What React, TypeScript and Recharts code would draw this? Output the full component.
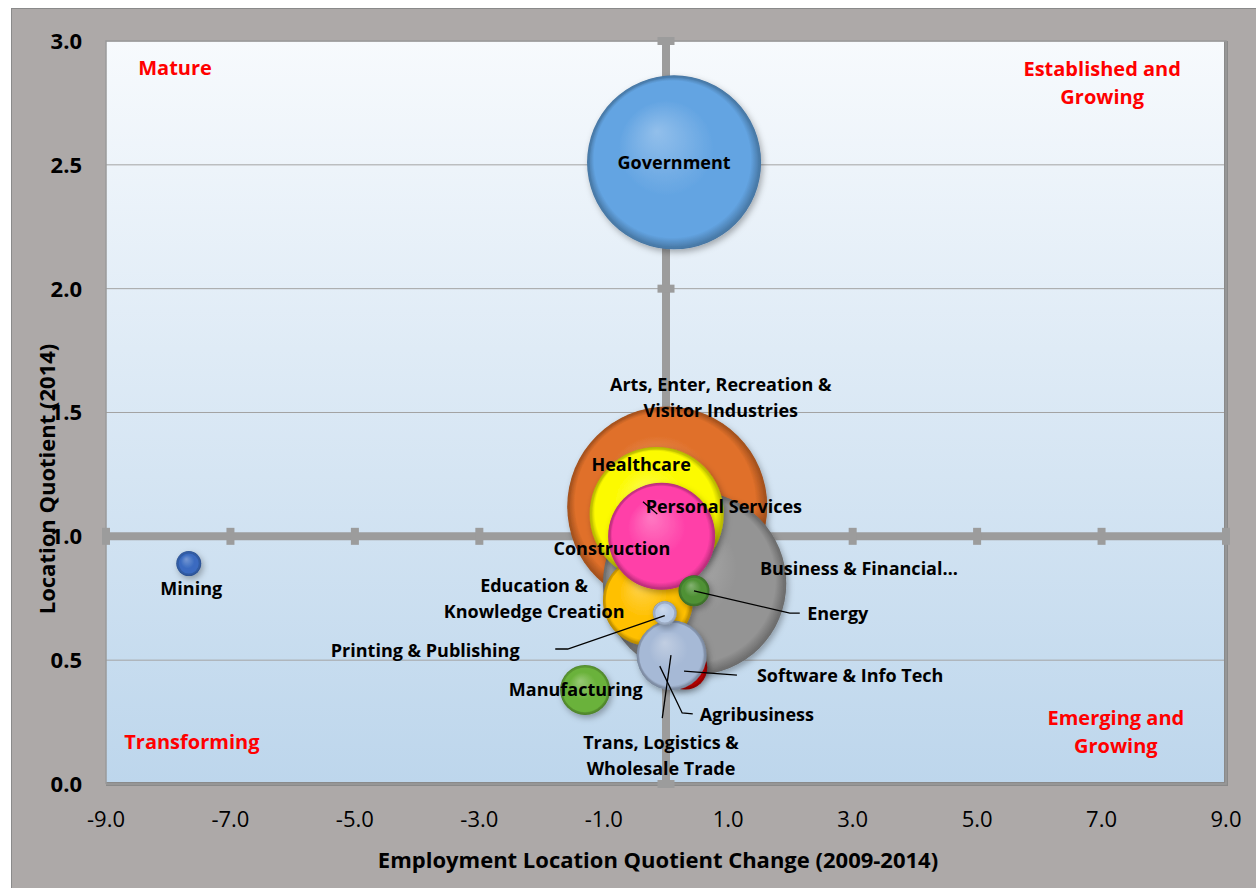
import React from 'react';
import { ScatterChart, Scatter, XAxis, YAxis, ZAxis, CartesianGrid } from 'recharts';

// bubbles, listed back-to-front (draw order)
const industries = [
    'Arts, Enter, Recreation & Visitor Industries',
    'Business & Financial Services',
    'Healthcare',
    'Education & Knowledge Creation',
    'Construction',
    'Personal Services',
    'Energy',
    'Software & Info Tech',
    'Agribusiness',
    'Trans, Logistics & Wholesale Trade',
    'Printing & Publishing',
    'Manufacturing',
    'Mining',
    'Government',
];
const lqChange = [0.02, 0.46, -0.15, -0.29, -0.15, -0.07, 0.45, 0.31, -0.10, 0.09, -0.02, -1.30, -7.67, 0.13];
const lq2014 = [1.12, 0.81, 1.09, 0.74, 0.98, 1.0, 0.78, 0.47, 0.48, 0.52, 0.69, 0.38, 0.89, 2.51];
const employment = [10000, 8400, 4500, 2025, 900, 2860, 240, 484, 225, 1225, 144, 625, 156, 7570];

const bubbleColors = [
    '#E0702A', '#949494', '#FCFA00', '#FFC000', '#A6A6A6', '#FF3FA8', '#4F9135',
    '#E00000', '#9FB4D3', '#A6B9D6', '#B8CBE6', '#6AB23A', '#3A6BC0', '#63A4E2',
];

const xTicks = [-9, -7, -5, -3, -1, 1, 3, 5, 7, 9];
const yTicks = [0, 0.5, 1, 1.5, 2, 2.5, 3];

// data labels (centre of the text block, in chart units)
const labelSpots = [
    { x: 0.13, y: 2.51, lines: ['Government'] },
    { x: 0.88, y: 1.56, lines: ['Arts, Enter, Recreation &', 'Visitor Industries'] },
    { x: -0.4, y: 1.29, lines: ['Healthcare'] },
    { x: 0.93, y: 1.12, lines: ['Personal Services'] },
    { x: -0.87, y: 0.95, lines: ['Construction'] },
    { x: 3.1, y: 0.87, lines: ['Business & Financial\u2026'] },
    { x: -2.12, y: 0.75, lines: ['Education &', 'Knowledge Creation'] },
    { x: 2.76, y: 0.69, lines: ['Energy'] },
    { x: -3.87, y: 0.54, lines: ['Printing & Publishing'] },
    { x: -1.45, y: 0.38, lines: ['Manufacturing'] },
    { x: 2.96, y: 0.44, lines: ['Software & Info Tech'] },
    { x: 1.46, y: 0.28, lines: ['Agribusiness'] },
    { x: -0.08, y: 0.115, lines: ['Trans, Logistics &', 'Wholesale Trade'] },
    { x: -7.63, y: 0.79, lines: ['Mining'] },
];

const quadrantSpots = [
    { x: -7.89, y: 2.89, lines: ['Mature'] },
    { x: 7.01, y: 2.83, lines: ['Established and', 'Growing'] },
    { x: 7.23, y: 0.21, lines: ['Emerging and', 'Growing'] },
    { x: -7.62, y: 0.17, lines: ['Transforming'] },
];

const leaders = [
    [{ x: -0.37, y: 1.14 }, { x: -0.14, y: 1.09 }],
    [{ x: 0.45, y: 0.78 }, { x: 1.99, y: 0.69 }, { x: 2.15, y: 0.69 }],
    [{ x: -0.02, y: 0.68 }, { x: -1.58, y: 0.545 }, { x: -1.78, y: 0.545 }],
    [{ x: 0.29, y: 0.456 }, { x: 1.14, y: 0.44 }],
    [{ x: -0.1, y: 0.476 }, { x: 0.26, y: 0.287 }, { x: 0.43, y: 0.283 }],
    [{ x: 0.08, y: 0.52 }, { x: -0.06, y: 0.266 }],
];

const FONT = '"Open Sans", "Noto Sans", sans-serif';
const AXIS_GRAY = '#9C9C9C';

const bubbles = industries.map((name, i) => ({ name, x: lqChange[i], y: lq2014[i], z: employment[i], idx: i }));
const hAxis = [{ x: -9, y: 1 }, { x: 9, y: 1 }];
const vAxis = [{ x: 0, y: 0 }, { x: 0, y: 3 }];
const hAxisTicks = xTicks.map((x) => ({ x, y: 1 }));
const vAxisTicks = [0, 1, 2, 3].map((y) => ({ x: 0, y }));
const frame = [{ x: -9, y: 0 }, { x: 9, y: 0 }, { x: 9, y: 3 }, { x: -9, y: 3 }, { x: -9, y: 0 }];
const frameShadow = [{ x: 9, y: 3 }, { x: 9, y: 0 }, { x: -9, y: 0 }];

function shade(hex: string, amt: number) {
    const n = parseInt(hex.slice(1), 16);
    const ch = [(n >> 16) & 255, (n >> 8) & 255, n & 255].map((c) =>
        Math.round(amt >= 0 ? c + (255 - c) * amt : c * (1 + amt))
    );
    return '#' + ch.map((c) => c.toString(16).padStart(2, '0')).join('');
}

const Nothing = () => <g />;

function Bubble(props: any) {
    const { cx, cy, size, payload } = props;
    const r = Math.sqrt(Math.max(size, 0) / Math.PI);
    return (
        <g filter="url(#bubShadow)">
            <circle cx={cx} cy={cy} r={r} fill={`url(#bub${payload.idx})`} />
            <circle cx={cx} cy={cy} r={Math.max(r - 1.5, 0)} fill="none" stroke={shade(bubbleColors[payload.idx], -0.25)} strokeWidth={2} strokeOpacity={0.6} />
        </g>
    );
}

function makeText(color: string, size: number, lh: number) {
    return (props: any) => {
        const { cx, cy, payload } = props;
        const n = payload.lines.length;
        return (
            <text textAnchor="middle" fontFamily={FONT} fontWeight={700} fontSize={size} fill={color}>
                {payload.lines.map((l: string, i: number) => (
                    <tspan key={i} x={cx} y={cy + (i - (n - 1) / 2) * lh} dy="0.36em">{l}</tspan>
                ))}
            </text>
        );
    };
}

const HTick = (props: any) => (
    <rect x={props.cx - 4} y={props.cy - 8.5} width={8} height={17} fill={AXIS_GRAY} />
);
const VTick = (props: any) => (
    <rect x={props.cx - 8.5} y={props.cy - 4} width={17} height={8} fill={AXIS_GRAY} />
);

const XTick = ({ x, y, payload }: any) => (
    <text x={x} y={y + 43} textAnchor="middle" fontFamily={FONT} fontSize={22} fill="#000">
        {Number(payload.value).toFixed(1)}
    </text>
);
const YTick = ({ x, y, payload }: any) => (
    <text x={x - 24} y={y} dy="0.36em" textAnchor="end" fontFamily={FONT} fontWeight={700} fontSize={22} fill="#000">
        {Number(payload.value).toFixed(1)}
    </text>
);

export default function App() {
    return (
        <div style={{ position: 'absolute', left: 0, top: 0, width: 1256, height: 888, background: '#fff' }}>
            <div
                style={{
                    position: 'absolute', left: 11, top: 8, width: 1245, height: 880,
                    background: '#ADA9A8', borderLeft: '1px solid #8A8A8A', borderTop: '1px solid #8A8A8A',
                }}
            />
            <div style={{ position: 'absolute', left: 0, top: 0 }}>
                <ScatterChart width={1256} height={888} margin={{ top: 41, right: 30, left: 26, bottom: 44 }}>
                    <defs>
                        <linearGradient id="plotGrad" x1="0" y1="0" x2="0" y2="1">
                            <stop offset="0%" stopColor="#F7FAFD" />
                            <stop offset="100%" stopColor="#BDD6EC" />
                        </linearGradient>
                        <filter id="bubShadow" x="-30%" y="-30%" width="160%" height="160%">
                            <feDropShadow dx="2" dy="3" stdDeviation="3" floodColor="#000" floodOpacity="0.3" />
                        </filter>
                        {bubbleColors.map((c, i) => (
                            <radialGradient key={i} id={`bub${i}`} cx="50%" cy="50%" r="50%" fx="40%" fy="32%">
                                <stop offset="0%" stopColor={shade(c, 0.3)} />
                                <stop offset="55%" stopColor={c} />
                                <stop offset="90%" stopColor={c} />
                                <stop offset="100%" stopColor={shade(c, -0.3)} />
                            </radialGradient>
                        ))}
                    </defs>
                    <CartesianGrid vertical={false} stroke="#A3A3A3" fill="url(#plotGrad)" fillOpacity={1} />
                    <XAxis
                        dataKey="x"
                        type="number"
                        domain={[-9, 9]}
                        ticks={xTicks}
                        axisLine={false}
                        tickLine={false}
                        tickSize={0}
                        tickMargin={0}
                        height={60}
                        tick={<XTick />}
                        label={{
                            content: () => (
                                <text x={658} y={868} textAnchor="middle" fontFamily={FONT} fontWeight={700} fontSize={22} fill="#000">
                                    Employment Location Quotient Change (2009-2014)
                                </text>
                            ),
                        }}
                    />
                    <YAxis
                        dataKey="y"
                        type="number"
                        domain={[0, 3]}
                        ticks={yTicks}
                        axisLine={false}
                        tickLine={false}
                        tickSize={0}
                        tickMargin={0}
                        width={80}
                        tick={<YTick />}
                        label={{
                            content: () => (
                                <text
                                    x={47}
                                    y={479}
                                    transform="rotate(-90 47 479)"
                                    textAnchor="middle"
                                    dy="0.36em"
                                    fontFamily={FONT}
                                    fontWeight={700}
                                    fontSize={22}
                                    fill="#000"
                                >
                                    Location Quotient (2014)
                                </text>
                            ),
                        }}
                    />
                    <ZAxis dataKey="z" type="number" domain={[0, 10000]} range={[0, Math.PI * 10000]} />

                    <Scatter data={frameShadow} line={{ stroke: '#8A8A8A', strokeWidth: 4 }} shape={<Nothing />} isAnimationActive={false} />
                    <Scatter data={frame} line={{ stroke: '#9A9A9A', strokeWidth: 1.5 }} shape={<Nothing />} isAnimationActive={false} />
                    <Scatter data={hAxis} line={{ stroke: AXIS_GRAY, strokeWidth: 8 }} shape={<Nothing />} isAnimationActive={false} />
                    <Scatter data={vAxis} line={{ stroke: AXIS_GRAY, strokeWidth: 8 }} shape={<Nothing />} isAnimationActive={false} />
                    <Scatter data={hAxisTicks} shape={<HTick />} isAnimationActive={false} />
                    <Scatter data={vAxisTicks} shape={<VTick />} isAnimationActive={false} />

                    <Scatter data={bubbles} shape={<Bubble />} isAnimationActive={false} />

                    {leaders.map((pts, i) => (
                        <Scatter key={i} data={pts} line={{ stroke: '#000', strokeWidth: 1.3 }} shape={<Nothing />} isAnimationActive={false} />
                    ))}
                    <Scatter data={labelSpots} shape={makeText('#000', 18, 26)} isAnimationActive={false} />
                    <Scatter data={quadrantSpots} shape={makeText('#FF0000', 20, 28)} isAnimationActive={false} />
                </ScatterChart>
            </div>
        </div>
    );
}
